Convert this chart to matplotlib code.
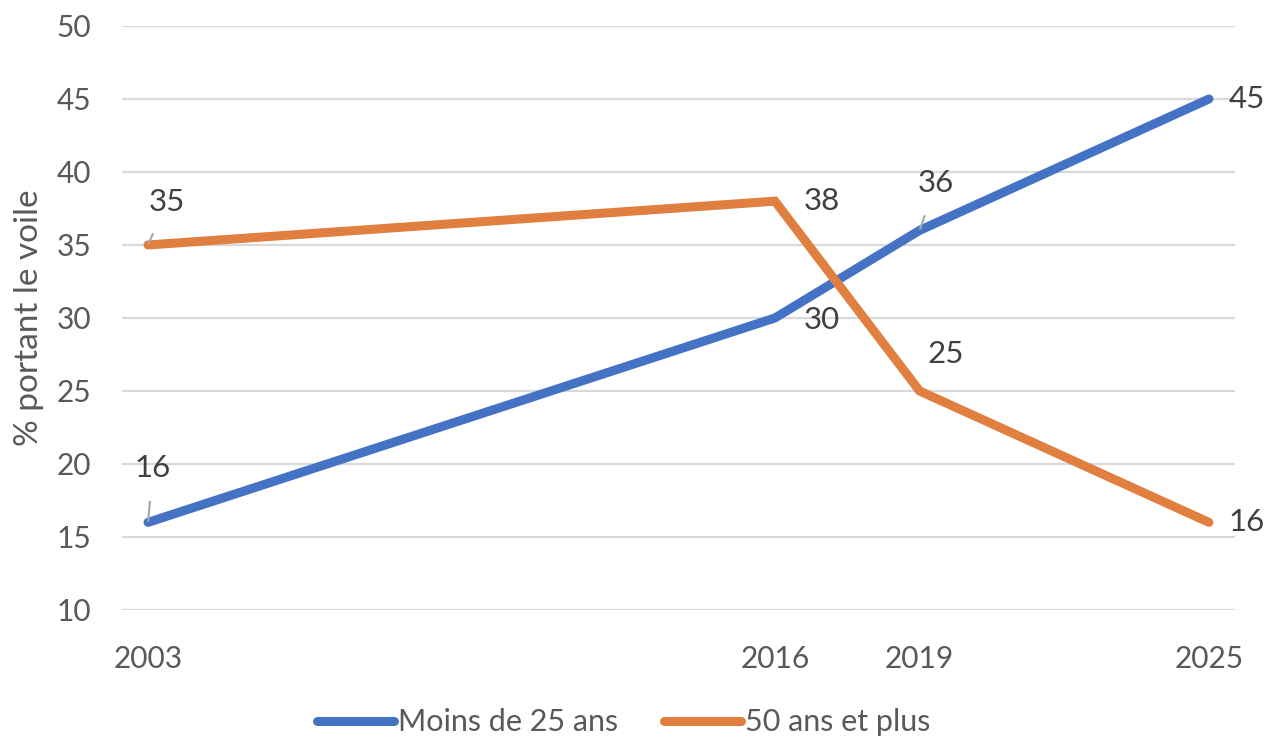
import matplotlib
matplotlib.use("Agg")
import matplotlib.pyplot as plt

# data
years = [2003, 2016, 2019, 2025]
moins25 = [16, 30, 36, 45]
plus50 = [35, 38, 25, 16]
series_names = ["Moins de 25 ans", "50 ans et plus"]
yticks = [10, 15, 20, 25, 30, 35, 40, 45, 50]

blue = "#4472C4"
orange = "#E07F3F"
grey_txt = "#595959"
lbl_txt = "#404040"

plt.rcParams['font.family'] = ['Lato', 'DejaVu Sans']

fig = plt.figure(figsize=(12.81, 7.40), dpi=100)
ax = fig.add_axes([0.0952, 0.1757, 0.8689, 0.7892])

ax.plot(years, moins25, color=blue, lw=6.5, solid_capstyle='round', solid_joinstyle='miter', label=series_names[0], zorder=3)
ax.plot(years, plus50, color=orange, lw=6.5, solid_capstyle='round', solid_joinstyle='miter', label=series_names[1], zorder=3)

ax.set_ylim(10, 50)
ax.set_xlim(2002.46, 2025.54)
ax.set_yticks(yticks)
ax.set_xticks(years)
ax.set_xticklabels([str(y) for y in years])
ax.grid(axis='y', color='#D9D9D9', lw=1.6)
ax.set_axisbelow(True)
for s in ax.spines.values():
    s.set_visible(False)
ax.tick_params(axis='both', length=0, labelsize=21.5, labelcolor=grey_txt)
ax.tick_params(axis='x', pad=25)
ax.tick_params(axis='y', pad=22)
ax.set_ylabel("% portant le voile", fontsize=24, color=grey_txt, labelpad=9)

# data labels: (x, y, dx, dy in pixels, leader)
labels = [
    (years[0], moins25[0], 5, 54, True),
    (years[1], moins25[1], 47, -2, False),
    (years[2], moins25[2], 16, 47, True),
    (years[3], moins25[3], 38, 0, False),
    (years[0], plus50[0], 19, 43, True),
    (years[1], plus50[1], 47, 0, False),
    (years[2], plus50[2], 26, 37, False),
    (years[3], plus50[3], 38, 0, False),
]
for x, y, dx, dy, leader in labels:
    props = None
    if leader:
        props = dict(arrowstyle='-', color='#A6A6A6', lw=1.5, shrinkA=12, shrinkB=1)
    ax.annotate(str(y), xy=(x, y), xytext=(dx, dy), textcoords='offset pixels',
                ha='center', va='center', fontsize=22.5, color=lbl_txt,
                arrowprops=props, zorder=4)

leg = fig.legend(loc='center', bbox_to_anchor=(0.487, 0.024), ncol=2, frameon=False,
                 fontsize=22, handlelength=2.5, handletextpad=0.15, columnspacing=1.5,
                 borderaxespad=0, borderpad=0)
for t in leg.get_texts():
    t.set_color(grey_txt)

fig.savefig("out.png", dpi=100)
